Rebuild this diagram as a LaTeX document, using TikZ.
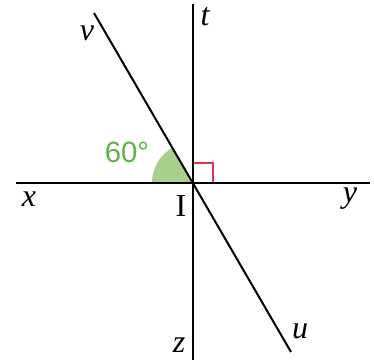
\documentclass[tikz,border=0pt]{standalone}
\usepackage{fontspec}
\setmainfont{Liberation Serif}
\newfontfamily\anglefont{Liberation Sans}
\usepackage{tikz}
\usetikzlibrary{calc}

\definecolor{sectorgreen}{RGB}{168,208,140}
\definecolor{textgreen}{RGB}{96,178,72}
\definecolor{markred}{RGB}{226,48,78}

\begin{document}
\begin{tikzpicture}[
  x=0.75pt, y=-0.75pt,
  axis/.style={line width=1.5pt, black},
  lbl/.style={font=\fontsize{24}{28}\selectfont\itshape, inner sep=0pt},
  rightmark/.style={draw=markred, line width=0.9pt}
]
\useasboundingbox (0,0) rectangle (374,363);
% points
\coordinate (I) at (193,183);
\coordinate (xend) at (16,183);
\coordinate (yend) at (370,183);
\coordinate (tend) at (193,4);
\coordinate (zend) at (193,360);
\coordinate (vend) at (94,13);
\coordinate (uend) at (291,352);
% marks (y axis is flipped, so the upper-left sector runs 180..240)
\fill[sectorgreen] (I) -- ++(180:41) arc[start angle=180, end angle=240, radius=41] -- cycle;
\draw[rightmark] ($(I)+(0,-20)$) -- ++(20,0) -- ++(0,20);
% lines
\draw[axis] (xend) -- (yend);
\draw[axis] (tend) -- (zend);
\draw[axis] (vend) -- (uend);
% labels
\node[lbl] (xlbl) at (29,199) {x};
\node[lbl] (ylbl) at (350,199) {y};
\node[lbl] (tlbl) at (205,17) {t};
\node[lbl] (zlbl) at (179,345) {z};
\node[lbl] (vlbl) at (87,33) {v};
\node[lbl] (ulbl) at (300,331) {u};
\node[lbl, font=\fontsize{24}{28}\selectfont\upshape] (Ilbl) at (181,206) {I};
\node[inner sep=0pt, text=textgreen, font=\anglefont\fontsize{22}{26}\selectfont] (angle) at (127,152) {60°};
\end{tikzpicture}
\end{document}
